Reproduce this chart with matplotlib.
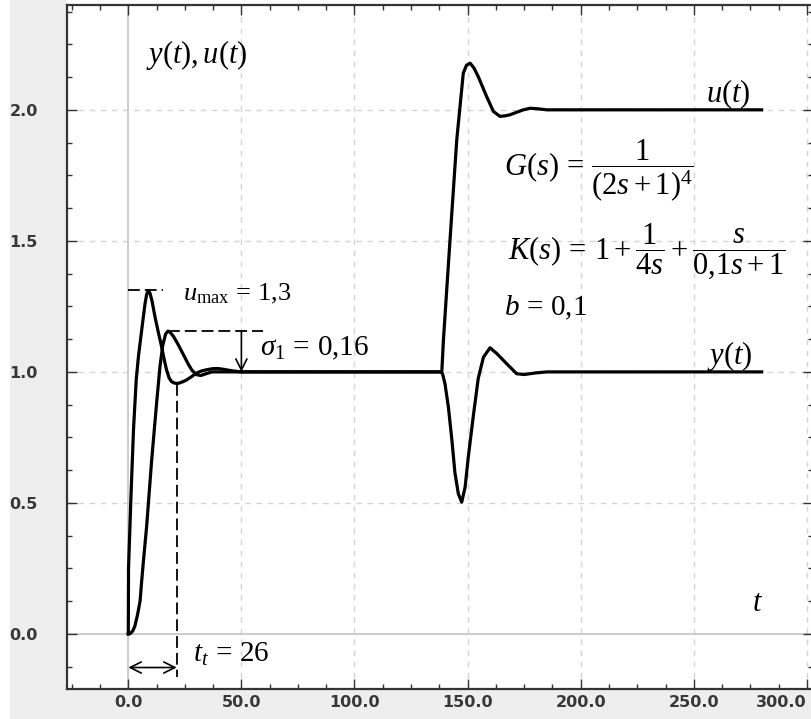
import matplotlib
matplotlib.use("Agg")
import matplotlib.pyplot as plt
from matplotlib.patches import Rectangle
from matplotlib.ticker import FixedLocator, MultipleLocator

plt.rcParams['mathtext.fontset'] = 'custom'
plt.rcParams['mathtext.rm'] = 'Liberation Serif'
plt.rcParams['mathtext.it'] = 'Liberation Serif:italic'
plt.rcParams['mathtext.bf'] = 'Liberation Serif:bold'
plt.rcParams['lines.scale_dashes'] = False

# ---------------- data ----------------
t_u = [0, 0.1, 1.2, 2.3, 3.5, 4.5, 5.5, 6.5, 7.4, 8.1, 8.8, 9.6, 10.5, 11.8, 13.3,
       14.7, 15.8, 16.9, 18.0, 19.1, 20.5, 22.0, 24.0, 25.7, 28.0, 30.0, 32.5,
       34.6, 37.0, 39.5, 42.0, 46.0, 50.0, 60.0, 138.6, 139.3, 142.2, 145.2,
       148.1, 149.5, 151.1, 152.8, 154.7, 158.4, 161.4, 164.3, 166.5, 168.7,
       171.5, 174.6, 177.6, 181.0, 185.0, 280.0]
u_vals = [0, 0.25, 0.53, 0.78, 0.97, 1.06, 1.13, 1.20, 1.26, 1.295, 1.311, 1.30,
          1.27, 1.21, 1.15, 1.097, 1.05, 1.008, 0.978, 0.963, 0.957, 0.956,
          0.962, 0.969, 0.982, 0.995, 1.004, 1.008, 1.012, 1.013, 1.010, 1.004,
          1.0, 1.0, 1.0, 1.12, 1.50, 1.885, 2.14, 2.17, 2.178, 2.16, 2.127,
          2.051, 1.994, 1.975, 1.977, 1.981, 1.99, 2.0, 2.006, 2.004, 2.0, 2.0]

t_y = [0, 1.0, 2.0, 2.9, 4.0, 5.2, 5.9, 6.6, 8.1, 10.3, 12.5, 14.0, 15.2, 16.5,
       17.6, 18.6, 20.0, 22.0, 23.5, 25.0, 26.5, 28.0, 30.0, 32.0, 34.0, 37.0,
       42.0, 138.5, 139.0, 140.0, 141.5, 143.0, 144.4, 145.9, 147.4, 148.9,
       150.3, 152.5, 154.7, 157.0, 159.9, 162.9, 167.3, 171.7, 175.0, 180.0,
       185.0, 280.0]
y_vals = [0, 0.002, 0.012, 0.03, 0.07, 0.125, 0.2, 0.27, 0.41, 0.66, 0.88, 1.02,
          1.10, 1.145, 1.156, 1.15, 1.135, 1.105, 1.08, 1.055, 1.03, 1.008, 0.99,
          0.986, 0.992, 1.0, 1.0, 1.0, 0.99, 0.955, 0.866, 0.745, 0.615, 0.535,
          0.503, 0.56, 0.675, 0.83, 0.975, 1.056, 1.092, 1.07, 1.031, 0.993,
          0.99, 0.996, 1.0, 1.0]

x_ticks = [0, 50, 100, 150, 200, 250, 300]
x_tick_labels = ['0.0', '50.0', '100.0', '150.0', '200.0', '250.0', '300.0']
y_ticks = [0.0, 0.5, 1.0, 1.5, 2.0]
y_tick_labels = ['0.0', '0.5', '1.0', '1.5', '2.0']

u_max = 1.311
y_peak = 1.156
u_min = 0.955
t_settle = 21.4
t_arrow = 50.0

# ---------------- figure ----------------
W, H = 812, 719
fig = plt.figure(figsize=(W / 100, H / 100), dpi=100)
fig.patch.set_facecolor('white')
fig.patches.append(Rectangle((10 / W, 0), 1 - 10 / W, 1, transform=fig.transFigure,
                             facecolor='#eeeeee', edgecolor='none', zorder=-10))
fig.patches.append(Rectangle((67 / W, (H - 5) / H), 1, 5 / H, transform=fig.transFigure,
                             facecolor='white', edgecolor='none', zorder=-9))

ax = fig.add_axes([67 / W, 30 / H, (813 - 67) / W, (689 - 5) / H])
ax.set_facecolor('white')
ax.set_xlim(-27.1, 302.7)
ax.set_ylim(-0.21, 2.40)

# grid
for xv in x_ticks[1:]:
    ax.axvline(xv, color='#d4d4d4', lw=1.0, dashes=(4, 4), zorder=0)
for yv in y_ticks[1:]:
    ax.axhline(yv, color='#d4d4d4', lw=1.0, dashes=(4, 4), zorder=0)
ax.axvline(0, color='#c8c8c8', lw=1.3, zorder=0)
ax.axhline(0, color='#c8c8c8', lw=1.3, zorder=0)

# curves
ax.plot(t_u, u_vals, color='black', lw=2.3, solid_joinstyle='round', zorder=3)
ax.plot(t_y, y_vals, color='black', lw=2.3, solid_joinstyle='round', zorder=3)

# annotation lines
ax.plot([0, 15.4], [u_max, u_max], color='black', lw=1.3, dashes=(8.5, 3.6))
ax.plot([17.5, 59.5], [y_peak, y_peak], color='black', lw=1.3, dashes=(8.5, 3.6))
ax.plot([t_settle, t_settle], [u_min, -0.165], color='black', lw=1.3, dashes=(8.5, 3.6))
ax.annotate('', xy=(t_arrow, 1.0), xytext=(t_arrow, y_peak),
            arrowprops=dict(arrowstyle='->', lw=1.2, color='black',
                            shrinkA=0, shrinkB=0, mutation_scale=20))
ax.annotate('', xy=(0, -0.128), xytext=(t_settle, -0.128),
            arrowprops=dict(arrowstyle='<->', lw=1.2, color='black',
                            shrinkA=0, shrinkB=0, mutation_scale=20))

# texts
fs = 22
ax.text(8.0, 2.18, r'$y(t),u(t)$', fontsize=fs, va='baseline', ha='left')
ax.text(255.5, 2.03, r'$u(t)$', fontsize=fs, va='baseline', ha='left')
ax.text(255.8, 1.03, r'$y(t)$', fontsize=fs, va='baseline', ha='left')
ax.text(166.3, 1.75, r'$G(s)\,=\,\dfrac{1}{(2s+1)^4}$', fontsize=fs, va='baseline', ha='left')
ax.text(167.7, 1.433, r'$K(s)\,=\,1 + \dfrac{1}{4s} + \dfrac{s}{0{,}1s+1}$', fontsize=fs,
        va='baseline', ha='left')
ax.text(166.3, 1.216, r'$b\,=\,0{,}1$', fontsize=21, va='baseline', ha='left')
ax.text(24.2, 1.273, r'$u_{\max}\,=\,1{,}3$', fontsize=19, va='baseline', ha='left')
ax.text(58.3, 1.063, r'$\sigma_1\,=\,0{,}16$', fontsize=21, va='baseline', ha='left')
ax.text(28.6, -0.105, r'$t_t\,=\,26$', fontsize=21, va='baseline', ha='left')
ax.text(275.7, 0.086, r'$t$', fontsize=fs, va='baseline', ha='left')

# ticks
ax.xaxis.set_major_locator(FixedLocator(x_ticks))
ax.yaxis.set_major_locator(FixedLocator(y_ticks))
ax.xaxis.set_minor_locator(MultipleLocator(12.5))
ax.yaxis.set_minor_locator(MultipleLocator(0.125))
tick_font = dict(fontsize=11.5, fontweight='bold', color='#383838')
ax.set_xticklabels(x_tick_labels, **tick_font)
ax.set_yticklabels(y_tick_labels, **tick_font)
ax.tick_params(which='both', direction='in', top=True, right=True, color='#333333', width=1.0)
ax.tick_params(which='major', length=7.5)
ax.tick_params(which='minor', length=3.5)
ax.tick_params(axis='x', which='major', pad=4)
ax.tick_params(axis='y', which='major', pad=21)
ax.xaxis.get_major_ticks()[-1].label1.set_horizontalalignment('right')
for sp in ax.spines.values():
    sp.set_color('#333333')
    sp.set_linewidth(1.6)

fig.savefig('out.png', dpi=100, facecolor=fig.get_facecolor())
